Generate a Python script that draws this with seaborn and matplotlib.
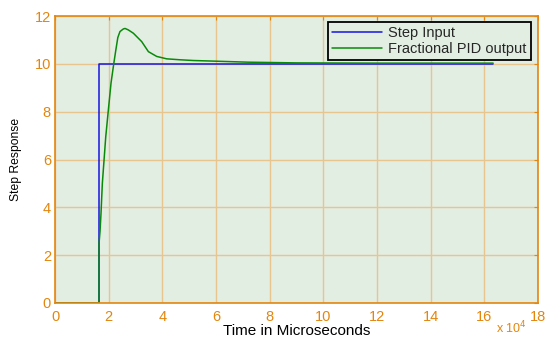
import matplotlib
matplotlib.use("Agg")
import matplotlib.pyplot as plt
import seaborn as sns
import pandas as pd

# time in units of 10^4 microseconds
step_t = [0.0, 1.64, 1.64, 16.33]
step_y = [0.0, 0.0, 10.0, 10.0]

pid_t = [0.0, 1.64, 1.64, 1.677, 1.714, 1.763, 1.89, 1.987, 2.087, 2.188, 2.262,
         2.34, 2.42, 2.546, 2.61, 2.73, 2.92, 3.23, 3.48, 3.79, 4.16, 4.66, 5.15,
         6.03, 7.19, 9.0, 12.0, 16.33]
pid_y = [0.0, 0.0, 2.5, 3.0, 3.77, 5.0, 6.95, 8.07, 9.2, 10.0, 10.55,
         11.1, 11.35, 11.46, 11.48, 11.42, 11.28, 10.93, 10.51, 10.31, 10.21, 10.17, 10.14,
         10.11, 10.07, 10.04, 10.03, 10.03]

labels = ["Step Input", "Fractional PID output"]

df = pd.concat([
    pd.DataFrame({"t": step_t, "y": step_y, "series": labels[0]}),
    pd.DataFrame({"t": pid_t, "y": pid_y, "series": labels[1]}),
], ignore_index=True)

sns.set_style("white")
plt.rcParams['font.family'] = ['Liberation Sans', 'DejaVu Sans']

orange = "#E3860F"
fig = plt.figure(figsize=(5.45, 3.38), dpi=100)
ax = fig.add_axes([0.101, 0.1036, 0.886, 0.849])
ax.set_facecolor("#E3EEE3")

sns.lineplot(data=df, x="t", y="y", hue="series", sort=False, estimator=None,
             palette={labels[0]: "#1515E0", labels[1]: "#0A8A0A"}, linewidth=1.1, ax=ax)

ax.set_xlim(0, 18)
ax.set_ylim(0, 12)
ax.set_xticks(range(0, 19, 2))
ax.set_yticks(range(0, 13, 2))
ax.grid(True, color="#E8C48F", linewidth=1.0)
ax.set_axisbelow(True)
for s in ax.spines.values():
    s.set_color(orange)
    s.set_linewidth(1.2)
ax.tick_params(axis="both", direction="in", length=3, colors=orange, labelsize=10.5,
               top=True, right=True)
ax.tick_params(axis="x", pad=5)
ax.tick_params(axis="y", pad=3)
for lab in ax.get_xticklabels() + ax.get_yticklabels():
    lab.set_color(orange)

ax.set_xlabel("Time in Microseconds", fontsize=11, color="black", labelpad=0)
ax.set_ylabel("Step Response", fontsize=8.7, color="black", labelpad=9)
fig.text(0.91, 0.014, r"x 10$^4$", color=orange, fontsize=9, va="baseline")

leg = ax.legend(loc="upper right", bbox_to_anchor=(0.9855, 0.979), fontsize=10.5,
                frameon=True, fancybox=False, edgecolor="black", facecolor="#E3EEE3",
                framealpha=1, borderaxespad=0, borderpad=0.3, labelspacing=0.1,
                handlelength=3.4, handletextpad=0.45, title=None)
leg.get_frame().set_linewidth(1.3)

fig.savefig("out.png", dpi=100)
